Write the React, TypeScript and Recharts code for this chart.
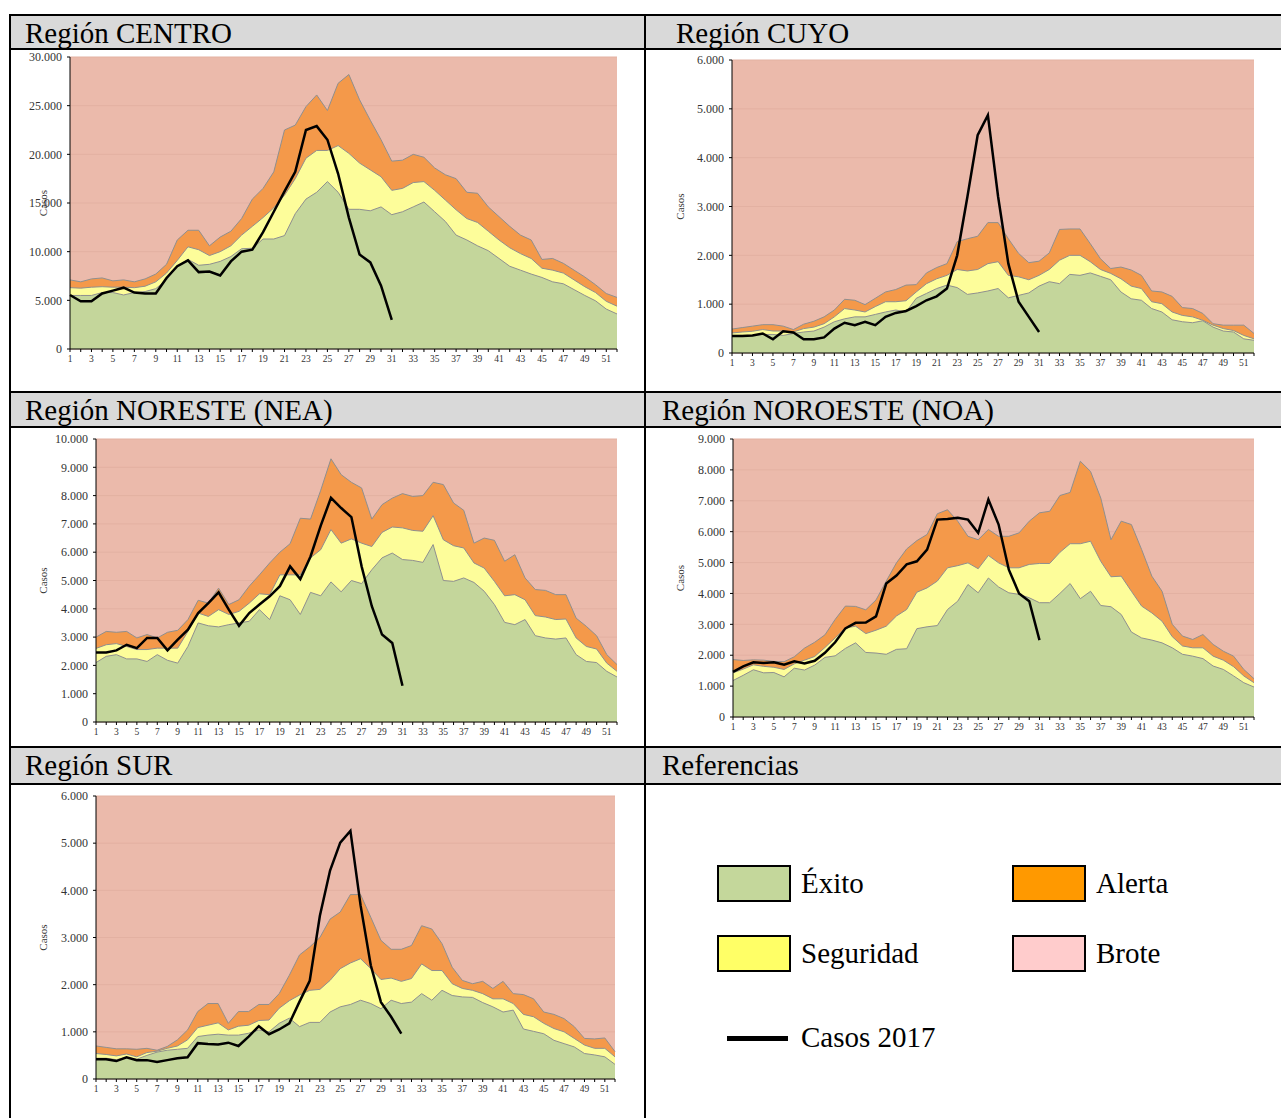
import React from "react";
import { Area, CartesianGrid, ComposedChart, Label, Line, XAxis, YAxis } from "recharts";

const SERIF = '"Liberation Serif", "Times New Roman", serif';

// semanas epidemiológicas
const weeks = [
  1, 2, 3, 4, 5, 6, 7, 8, 9, 10, 11, 12, 13, 14, 15, 16, 17, 18, 19, 20, 21, 22, 23, 24, 25, 26,
  27, 28, 29, 30, 31, 32, 33, 34, 35, 36, 37, 38, 39, 40, 41, 42, 43, 44, 45, 46, 47, 48, 49, 50, 51, 52,
];

// Región CENTRO
const centroExito = [5500, 5500, 5500, 5800, 5800, 5550, 5800, 5900, 6200, 7100, 8500, 9200, 8600, 8700, 9000, 9500, 10300, 10350, 11300, 11300, 11650, 13900, 15400, 16100, 17200, 16100, 14350, 14350, 14200, 14600, 13800, 14100, 14600, 15100, 14100, 13100, 11700, 11200, 10600, 10100, 9300, 8500, 8100, 7700, 7350, 6900, 6700, 6100, 5500, 4950, 4100, 3600];
const centroSeguridad = [6300, 6250, 6350, 6400, 6350, 6350, 6300, 6450, 6900, 7800, 9100, 10500, 10200, 9600, 10000, 10600, 11700, 12600, 13500, 14500, 15800, 17500, 19600, 20400, 20400, 20900, 20100, 19100, 18400, 17700, 16300, 16500, 17100, 17200, 16300, 15300, 14300, 13400, 13000, 12100, 11200, 10400, 9800, 9300, 8300, 8100, 7800, 7100, 6400, 5800, 4900, 4400];
const centroAlerta = [7100, 6900, 7200, 7300, 7000, 7100, 6900, 7200, 7700, 8700, 11200, 12200, 12200, 10600, 11500, 12100, 13400, 15400, 16500, 18200, 22500, 23000, 24900, 26100, 24500, 27300, 28200, 25600, 23500, 21500, 19300, 19400, 20000, 19700, 18600, 17900, 17500, 16100, 16000, 14600, 13600, 12600, 11700, 11200, 9200, 9300, 8800, 8100, 7400, 6600, 5700, 5300];
const centroCasos = [5550, 4900, 4900, 5700, 6000, 6300, 5800, 5700, 5700, 7300, 8500, 9100, 7900, 7950, 7550, 9000, 10000, 10200, 12000, 14100, 16200, 18200, 22500, 22900, 21500, 18000, 13500, 9700, 8900, 6500, 3000];

// Región CUYO
const cuyoExito = [360, 360, 360, 380, 380, 360, 400, 430, 450, 530, 640, 700, 740, 740, 790, 840, 880, 840, 1120, 1220, 1320, 1390, 1340, 1200, 1230, 1270, 1320, 1130, 1180, 1230, 1370, 1460, 1420, 1610, 1590, 1640, 1570, 1500, 1250, 1110, 1080, 910, 840, 680, 640, 620, 660, 530, 450, 430, 290, 260];
const cuyoSeguridad = [410, 430, 445, 480, 450, 450, 430, 500, 530, 600, 740, 910, 880, 840, 950, 1050, 1050, 1070, 1250, 1420, 1520, 1590, 1710, 1680, 1710, 1830, 1870, 1590, 1560, 1500, 1590, 1710, 1900, 2000, 2000, 1870, 1710, 1630, 1520, 1370, 1320, 1050, 1010, 840, 770, 740, 670, 570, 500, 460, 360, 290];
const cuyoAlerta = [490, 520, 550, 580, 580, 550, 480, 590, 650, 740, 880, 1100, 1080, 990, 1120, 1250, 1300, 1390, 1400, 1640, 1750, 1830, 2280, 2340, 2390, 2670, 2670, 2340, 2040, 1850, 1880, 2050, 2530, 2540, 2540, 2240, 1930, 1730, 1760, 1700, 1590, 1270, 1250, 1160, 930, 910, 810, 600, 570, 570, 570, 400];
const cuyoCasos = [350, 350, 360, 400, 280, 445, 420, 280, 280, 320, 500, 620, 570, 640, 570, 740, 820, 860, 960, 1080, 1160, 1320, 2000, 3200, 4460, 4870, 3200, 1830, 1050, 740, 430];

// Región NORESTE (NEA)
const neaExito = [2100, 2320, 2380, 2230, 2230, 2140, 2380, 2180, 2080, 2670, 3500, 3400, 3360, 3440, 3500, 3560, 3970, 3620, 4460, 4320, 3800, 4580, 4460, 4950, 4600, 5000, 4890, 5380, 5800, 5970, 5740, 5710, 5640, 6270, 5000, 4970, 5090, 4930, 4620, 4150, 3520, 3440, 3620, 3050, 2970, 2930, 2970, 2380, 2140, 2100, 1790, 1590];
const neaSeguridad = [2600, 2730, 2770, 2670, 2560, 2560, 2610, 2610, 2610, 3200, 3850, 3730, 3970, 3800, 3910, 4200, 4530, 4500, 5200, 5200, 5200, 5800, 6090, 6800, 6320, 6470, 6320, 6200, 6700, 6890, 6860, 6770, 6740, 7290, 6440, 6230, 6150, 5620, 5440, 4970, 4460, 4500, 4320, 3760, 3710, 3620, 3640, 2970, 2670, 2580, 2080, 1790];
const neaAlerta = [3000, 3200, 3170, 3200, 2970, 3090, 2970, 3170, 3240, 3620, 4300, 4200, 4730, 4150, 4320, 4800, 5200, 5620, 6000, 6300, 7200, 7170, 8190, 9300, 8740, 8470, 8270, 7170, 7680, 7910, 8070, 7970, 8000, 8470, 8390, 7740, 7480, 6320, 6500, 6420, 5680, 5910, 5090, 4680, 4650, 4500, 4500, 3670, 3380, 3050, 2380, 2030];
const neaCasos = [2460, 2460, 2530, 2730, 2610, 2970, 2970, 2530, 2910, 3260, 3850, 4200, 4580, 3970, 3400, 3850, 4150, 4440, 4800, 5500, 5050, 5850, 6940, 7920, 7560, 7240, 5500, 4090, 3090, 2790, 1280];

// Región NOROESTE (NOA)
const noaExito = [1180, 1350, 1530, 1430, 1440, 1300, 1580, 1520, 1680, 1930, 1980, 2220, 2400, 2090, 2070, 2030, 2190, 2210, 2860, 2920, 2960, 3480, 3750, 4290, 4020, 4500, 4210, 4020, 3970, 3860, 3700, 3700, 4000, 4320, 3830, 4070, 3610, 3570, 3320, 2750, 2560, 2490, 2400, 2240, 2030, 1970, 1890, 1650, 1540, 1330, 1110, 970];
const noaSeguridad = [1430, 1550, 1690, 1640, 1610, 1540, 1720, 1840, 1960, 2250, 2560, 2880, 2940, 2700, 2810, 2940, 3270, 3480, 4040, 4180, 4400, 4830, 4900, 4990, 4800, 5230, 4990, 4830, 4830, 4940, 4970, 4970, 5330, 5610, 5610, 5690, 5040, 4540, 4560, 4070, 3590, 3370, 3100, 2600, 2300, 2240, 2240, 1970, 1840, 1630, 1330, 1110];
const noaAlerta = [1860, 1830, 1850, 1840, 1800, 1790, 1950, 2230, 2420, 2660, 3160, 3590, 3580, 3470, 3790, 4400, 4990, 5440, 5710, 5910, 6580, 6710, 6340, 5850, 5740, 6070, 5850, 5850, 5960, 6340, 6610, 6660, 7170, 7270, 8280, 7950, 7090, 5740, 6340, 6230, 5420, 4560, 4070, 3000, 2620, 2510, 2670, 2350, 2130, 1970, 1540, 1240];
const noaCasos = [1460, 1640, 1770, 1750, 1770, 1690, 1800, 1730, 1820, 2080, 2420, 2870, 3050, 3060, 3260, 4320, 4580, 4940, 5040, 5420, 6390, 6410, 6450, 6390, 5960, 7040, 6230, 4770, 4000, 3750, 2490];

// Región SUR
const surExito = [440, 440, 410, 460, 420, 500, 570, 610, 630, 650, 900, 930, 950, 930, 930, 970, 1040, 1000, 1180, 1290, 1110, 1200, 1200, 1420, 1530, 1580, 1670, 1600, 1490, 1670, 1600, 1630, 1810, 1670, 1880, 1770, 1740, 1730, 1620, 1530, 1420, 1460, 1060, 1010, 960, 820, 750, 680, 540, 510, 470, 310];
const surSeguridad = [540, 520, 490, 530, 470, 560, 590, 650, 700, 830, 1090, 1140, 1190, 1040, 1120, 1140, 1240, 1250, 1500, 1660, 1780, 1880, 1900, 2090, 2340, 2460, 2550, 2340, 2110, 2140, 2070, 2130, 2440, 2300, 2300, 2020, 1920, 1880, 1810, 1700, 1700, 1600, 1370, 1320, 1180, 1070, 1000, 860, 720, 650, 650, 470];
const surAlerta = [700, 670, 640, 640, 630, 650, 610, 690, 830, 1040, 1430, 1600, 1600, 1180, 1430, 1430, 1580, 1580, 1810, 2200, 2630, 2800, 3000, 3390, 3540, 3910, 3910, 3430, 2940, 2750, 2750, 2830, 3250, 3180, 2870, 2370, 2090, 2020, 2070, 1920, 2070, 1810, 1790, 1700, 1420, 1370, 1280, 1110, 860, 850, 870, 580];
const surCasos = [420, 420, 380, 460, 400, 400, 360, 400, 440, 460, 760, 740, 730, 770, 700, 900, 1120, 950, 1050, 1180, 1640, 2080, 3460, 4420, 5010, 5260, 3680, 2410, 1630, 1320, 960];

const centroTicks = [0, 5000, 10000, 15000, 20000, 25000, 30000];
const cuyoTicks = [0, 1000, 2000, 3000, 4000, 5000, 6000];
const neaTicks = [0, 1000, 2000, 3000, 4000, 5000, 6000, 7000, 8000, 9000, 10000];
const noaTicks = [0, 1000, 2000, 3000, 4000, 5000, 6000, 7000, 8000, 9000];
const surTicks = [0, 1000, 2000, 3000, 4000, 5000, 6000];

const colors = { exito: "#c4d69b", seguridad: "#fdfd9a", alerta: "#f4994a", brote: "#ebbaab", edge: "#8f8f8f" };
const legendColors = { exito: "#c4d79b", seguridad: "#ffff66", alerta: "#ff9900", brote: "#ffcccc" };

const YW = 60;
const MT = 8;
const MR = 6;
const XH = 26;

type Plot = { x: number; y: number; w: number; h: number };
type Region = { exito: number[]; seguridad: number[]; alerta: number[]; casos: number[]; ticks: number[]; plot: Plot; labelGap: number };

const fmt = (v: number) => String(v).replace(/\B(?=(\d{3})+(?!\d))/g, ".");

function Corridor({ r }: { r: Region }) {
  const data = weeks.map((week, i) => ({
    week, exito: r.exito[i], seguridad: r.seguridad[i], alerta: r.alerta[i],
    casos: i < r.casos.length ? r.casos[i] : null,
  }));
  const yMax = r.ticks[r.ticks.length - 1];
  return <div style={{ position: "absolute", left: r.plot.x - YW, top: r.plot.y - MT }}>
    <ComposedChart width={YW + r.plot.w + MR} height={MT + r.plot.h + XH} data={data} margin={{ top: MT, right: MR, left: 0, bottom: 0 }}>
      <CartesianGrid vertical={false} fill={colors.brote} fillOpacity={1} stroke="#e3b1a2"/>
      <XAxis dataKey="week" type="number" domain={[1, 52]} ticks={weeks} interval={0} height={XH}
        tickFormatter={(w: number) => (w % 2 ? String(w) : "")}
        tick={{ fontSize: 9.5, fill: "#333", fontFamily: SERIF }} tickSize={3} tickMargin={3}
        axisLine={{ stroke: "#000" }} tickLine={{ stroke: "#000" }}/>
      <YAxis width={YW} domain={[0, yMax]} ticks={r.ticks} interval={0} tickFormatter={fmt}
        tick={{ fontSize: 12, fill: "#333", fontFamily: SERIF }} tickSize={3} tickMargin={5}
        axisLine={{ stroke: "#000" }} tickLine={{ stroke: "#000" }}>
        <Label content={() => {
          const x = YW - r.labelGap;
          const y = MT + r.plot.h / 2;
          return <text x={x} y={y} transform={`rotate(-90, ${x}, ${y})`} textAnchor="middle" dominantBaseline="central"
            fontSize={11} fill="#333" fontFamily={SERIF}>Casos</text>;
        }}/>
      </YAxis>
      <Area dataKey="alerta" type="linear" fill={colors.alerta} fillOpacity={1} stroke={colors.edge} strokeWidth={1} dot={false} activeDot={false} isAnimationActive={false}/>
      <Area dataKey="seguridad" type="linear" fill={colors.seguridad} fillOpacity={1} stroke={colors.edge} strokeWidth={1} dot={false} activeDot={false} isAnimationActive={false}/>
      <Area dataKey="exito" type="linear" fill={colors.exito} fillOpacity={1} stroke={colors.edge} strokeWidth={1} dot={false} activeDot={false} isAnimationActive={false}/>
      <Line dataKey="casos" type="linear" stroke="#000" strokeWidth={2.5} dot={false} activeDot={false} connectNulls={false} isAnimationActive={false}/>
    </ComposedChart>
  </div>;
}

const regions: Region[] = [
  { exito: centroExito, seguridad: centroSeguridad, alerta: centroAlerta, casos: centroCasos, ticks: centroTicks, plot: { x: 70, y: 57, w: 547, h: 292 }, labelGap: 27 },
  { exito: cuyoExito, seguridad: cuyoSeguridad, alerta: cuyoAlerta, casos: cuyoCasos, ticks: cuyoTicks, plot: { x: 732, y: 60, w: 522, h: 293 }, labelGap: 52 },
  { exito: neaExito, seguridad: neaSeguridad, alerta: neaAlerta, casos: neaCasos, ticks: neaTicks, plot: { x: 96, y: 439, w: 521, h: 283 }, labelGap: 53 },
  { exito: noaExito, seguridad: noaSeguridad, alerta: noaAlerta, casos: noaCasos, ticks: noaTicks, plot: { x: 733, y: 439, w: 521, h: 278 }, labelGap: 53 },
  { exito: surExito, seguridad: surSeguridad, alerta: surAlerta, casos: surCasos, ticks: surTicks, plot: { x: 96, y: 796, w: 519, h: 283 }, labelGap: 53 },
];

const header = (text: string, pad: number) => <div style={{ background: "#d9d9d9", fontFamily: SERIF, fontSize: 29, lineHeight: "28px", paddingTop: 3, paddingLeft: pad, whiteSpace: "nowrap" }}>{text}</div>;
const cell = <div style={{ background: "#fff" }}/>;

function LegendBox({ x, y, color, text }: { x: number; y: number; color: string; text: string }) {
  return <>
    <div style={{ position: "absolute", left: x, top: y, width: 70, height: 33, background: color, border: "2px solid #000" }}/>
    <div style={{ position: "absolute", left: x + 84, top: y + 2, fontFamily: SERIF, fontSize: 29, lineHeight: "32px", whiteSpace: "nowrap" }}>{text}</div>
  </>;
}

export default function App() {
  return <div style={{ position: "fixed", left: 0, top: 0, width: 1281, height: 1118, background: "#fff", overflow: "hidden" }}>
    <div style={{ position: "absolute", left: 9, top: 14, width: 1272, height: 1160, background: "#000", padding: "2px 0 0 2px", boxSizing: "border-box",
      display: "grid", gridTemplateColumns: "633px 635px", gridTemplateRows: "32px 341px 33px 318px 35px 400px", gap: 2 }}>
      {header("Región CENTRO", 14)}{header("Región CUYO", 30)}
      {cell}{cell}
      {header("Región NORESTE (NEA)", 14)}{header("Región NOROESTE (NOA)", 16)}
      {cell}{cell}
      {header("Región SUR", 14)}{header("Referencias", 16)}
      {cell}{cell}
    </div>
    {regions.map((r, i) => <Corridor key={i} r={r}/>)}
    <LegendBox x={717} y={865} color={legendColors.exito} text="Éxito"/>
    <LegendBox x={1012} y={865} color={legendColors.alerta} text="Alerta"/>
    <LegendBox x={717} y={935} color={legendColors.seguridad} text="Seguridad"/>
    <LegendBox x={1012} y={935} color={legendColors.brote} text="Brote"/>
    <div style={{ position: "absolute", left: 727, top: 1036, width: 61, height: 5, background: "#000" }}/>
    <div style={{ position: "absolute", left: 801, top: 1021, fontFamily: SERIF, fontSize: 29, lineHeight: "32px", whiteSpace: "nowrap" }}>Casos 2017</div>
  </div>;
}
